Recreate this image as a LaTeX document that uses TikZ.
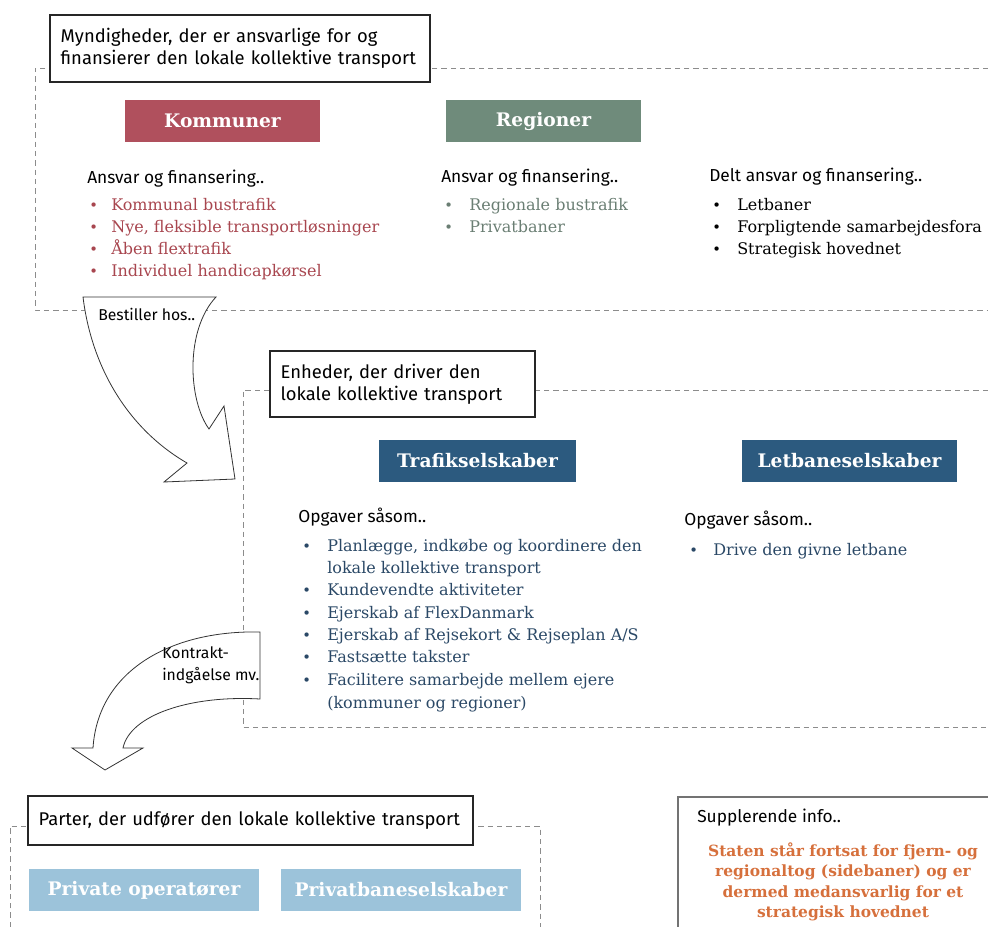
\documentclass[tikz,border=0pt]{standalone}
\usepackage{fontspec}
\setmainfont{DejaVu Serif}
\newfontfamily\handfont{Fira Sans}
\definecolor{komfill}{HTML}{B0505D}
\definecolor{komtext}{HTML}{A8464F}
\definecolor{regfill}{HTML}{6F8B7B}
\definecolor{regtext}{HTML}{6A7E73}
\definecolor{trafill}{HTML}{2C5A7F}
\definecolor{tratext}{HTML}{2A4866}
\definecolor{opfill}{HTML}{9CC3DA}
\definecolor{orangetext}{HTML}{D6703C}
\definecolor{dashgrey}{HTML}{8C8C8C}
\begin{document}
\begin{tikzpicture}[x=0.75pt,y=-0.75pt,
  dashframe/.style={draw=dashgrey, line width=0.6pt, dash pattern=on 4pt off 3pt},
  titlebox/.style={draw=black!85, fill=white, line width=0.8pt, inner xsep=8pt, inner ysep=0pt,
    align=left, font=\handfont\fontsize{13.8}{16.5}\selectfont},
  header/.style={text=white, inner sep=0pt, minimum height=31.5pt,
    font=\bfseries\fontsize{14}{16}\selectfont},
  lead/.style={anchor=mid west, inner sep=0pt, yshift=-1.5pt, font=\handfont\fontsize{13}{15}\selectfont},
  item/.style={anchor=mid west, inner sep=0pt, yshift=-1.5pt, font=\fontsize{12}{14}\selectfont},
  dot/.style={anchor=mid west, inner sep=0pt, yshift=-1.5pt, font=\fontsize{11}{13}\selectfont},
  bigarrow/.style={draw=black!80, fill=white, line width=0.6pt, line join=miter},
  arrowlabel/.style={inner sep=0pt, align=left, font=\handfont\fontsize{11.8}{16.5}\selectfont}]
\useasboundingbox (0,0) rectangle (988,927);

% dashed frames of the three levels
\draw[dashframe] (988,68) -- (35,68) -- (35,310) -- (988,310);
\draw[dashframe] (988,390) -- (243,390) -- (243,727) -- (988,727);
\draw[dashframe] (10,927) -- (10,826) -- (540,826) -- (540,927);

% box with supplementary information
\draw[draw=black!55, line width=1pt] (988,797) -- (678,797) -- (678,927);

% curved block arrows between the levels
\draw[bigarrow] (83,297) .. controls (92,370) and (130,430) .. (187,463) -- (164,482)
  -- (235,479) -- (224,406) -- (209,429) .. controls (188,400) and (185,330) .. (216,297) -- cycle;
\draw[bigarrow] (260,632) .. controls (172,630) and (98,670) .. (93,748) -- (72,748)
  -- (105,770) -- (143,748) -- (123,748) .. controls (130,715) and (190,695) .. (260,699) -- cycle;
\node[arrowlabel, anchor=mid west] (bestil) at (98,317) {Bestiller hos..};
\node[arrowlabel, anchor=north west] (kontrakt) at (162,646) {Kontrakt-\\indgåelse mv.};

% level titles
\node[titlebox, minimum width=285pt, minimum height=50.25pt, text width=269pt] (t1) at (240,48.5)
  {Myndigheder, der er ansvarlige for og\\finansierer den lokale kollektive transport};
\node[titlebox, minimum width=198.75pt, minimum height=49.5pt, text width=182.75pt] (t2) at (402.5,384)
  {Enheder, der driver den\\lokale kollektive transport};
\node[titlebox, minimum width=333.75pt, minimum height=36.75pt, text width=317.75pt] (t3) at (250.5,820.5)
  {Parter, der udfører den lokale kollektive transport};

% coloured headers
\node[header, fill=komfill, minimum width=146.25pt] (kom) at (222.5,121) {Kommuner};
\node[header, fill=regfill, minimum width=146.25pt] (reg) at (543.5,121) {Regioner};
\node[header, fill=trafill, minimum width=147.75pt] (tra) at (477.5,461) {Trafikselskaber};
\node[header, fill=trafill, minimum width=161.25pt] (let) at (849.5,461) {Letbaneselskaber};
\node[header, fill=opfill, minimum width=172.5pt] (priv) at (144,890) {Private operatører};
\node[header, fill=opfill, minimum width=180pt] (pbane) at (401,890) {Privatbaneselskaber};

% Kommuner
\node[lead] (komlead) at (87,178) {Ansvar og finansering..};
\foreach \y/\t [count=\i] in {205/Kommunal bustrafik, 227/{Nye, fleksible transportløsninger},
  249/Åben flextrafik, 271/Individuel handicapkørsel}{
  \node[dot, text=komtext] (komdot\i) at (89,\y) {•};
  \node[item, text=komtext] (komitem\i) at (111,\y) {\t};
}

% Regioner
\node[lead] (reglead) at (441,177) {Ansvar og finansering..};
\foreach \y/\t [count=\i] in {205/Regionale bustrafik, 227/Privatbaner}{
  \node[dot, text=regtext] (regdot\i) at (444,\y) {•};
  \node[item, text=regtext] (regitem\i) at (469,\y) {\t};
}

% shared responsibility
\node[lead] (deltlead) at (709,176) {Delt ansvar og finansering..};
\foreach \y/\t [count=\i] in {205/Letbaner, 227/Forpligtende samarbejdesfora, 249/Strategisk hovednet}{
  \node[dot] (deltdot\i) at (712,\y) {•};
  \node[item] (deltitem\i) at (737,\y) {\t};
}

% Trafikselskaber tasks
\node[lead] (tralead) at (298,517) {Opgaver såsom..};
\foreach \y in {546,590,613,635,657,680}{
  \node[dot, text=tratext] (tradot\y) at (302,\y) {•};
}
\foreach \y/\t in {546/{Planlægge, indkøbe og koordinere den}, 568/{lokale kollektive transport},
  590/{Kundevendte aktiviteter}, 613/{Ejerskab af FlexDanmark},
  635/{Ejerskab af Rejsekort \& Rejseplan A/S}, 657/{Fastsætte takster},
  680/{Facilitere samarbejde mellem ejere}, 703/{(kommuner og regioner)}}{
  \node[item, text=tratext] (traitem\y) at (327,\y) {\t};
}

% Letbaneselskaber tasks
\node[lead] (letlead) at (684,520) {Opgaver såsom..};
\node[dot, text=tratext] (letdot) at (689,550) {•};
\node[item, text=tratext] (letitem) at (713,550) {Drive den givne letbane};

% supplementary information
\node[lead] (suplead) at (697,817) {Supplerende info..};
\node[inner sep=0pt, align=center, text=orangetext, font=\bfseries\fontsize{11.6}{15.3}\selectfont]
  (supinfo) at (843,882)
  {Staten står fortsat for fjern- og\\regionaltog (sidebaner) og er\\dermed medansvarlig for et\\strategisk hovednet};
\end{tikzpicture}
\end{document}
